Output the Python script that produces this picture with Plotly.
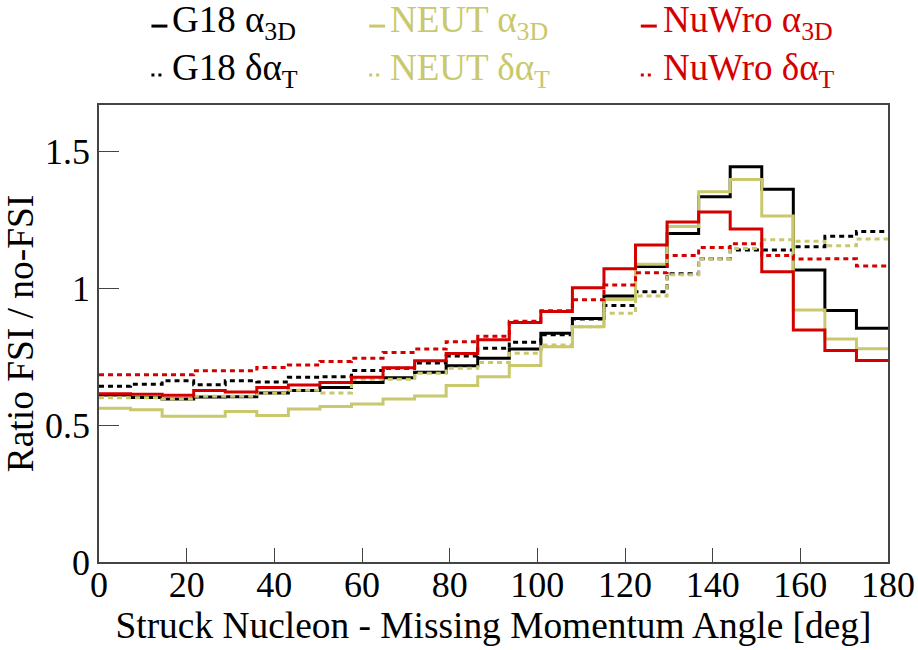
import numpy as np
import plotly.graph_objects as go

# ---- data ----
bin_edges = np.linspace(0, 180, 26)  # 25 bins of 7.2 deg

g18_a3d = [0.610, 0.601, 0.596, 0.603, 0.604, 0.618, 0.627, 0.638, 0.656, 0.673,
           0.693, 0.717, 0.745, 0.778, 0.836, 0.890, 0.972, 1.080, 1.200, 1.335,
           1.444, 1.362, 1.067, 0.919, 0.854]
g18_dat = [0.642, 0.650, 0.662, 0.648, 0.662, 0.658, 0.675, 0.677, 0.700, 0.708,
           0.727, 0.753, 0.781, 0.803, 0.830, 0.888, 0.937, 0.988, 1.053, 1.108,
           1.140, 1.140, 1.152, 1.190, 1.208]
neut_a3d = [0.562, 0.556, 0.533, 0.533, 0.550, 0.535, 0.559, 0.568, 0.577, 0.596,
            0.607, 0.645, 0.677, 0.718, 0.787, 0.860, 0.959, 1.088, 1.226, 1.353,
            1.398, 1.264, 0.921, 0.815, 0.779]
neut_dat = [0.600, 0.600, 0.596, 0.606, 0.606, 0.617, 0.628, 0.618, 0.668, 0.668,
            0.690, 0.708, 0.729, 0.763, 0.793, 0.860, 0.909, 0.972, 1.050, 1.108,
            1.146, 1.178, 1.172, 1.156, 1.180]
nuwro_a3d = [0.615, 0.613, 0.609, 0.627, 0.621, 0.638, 0.647, 0.656, 0.675, 0.710,
             0.735, 0.762, 0.812, 0.875, 0.915, 1.002, 1.072, 1.158, 1.242, 1.279,
             1.217, 1.061, 0.848, 0.773, 0.736]
nuwro_dat = [0.684, 0.684, 0.684, 0.699, 0.699, 0.711, 0.720, 0.733, 0.745, 0.766,
             0.778, 0.805, 0.825, 0.880, 0.918, 0.958, 1.012, 1.057, 1.120, 1.149,
             1.163, 1.120, 1.107, 1.108, 1.082]

x_ticks = [0, 20, 40, 60, 80, 100, 120, 140, 160, 180]
y_ticks = [0, 0.5, 1, 1.5]
y_tick_labels = ["0", "0.5", "1", "1.5"]

BLACK = "#000000"
OLIVE = "#c9c86c"
RED = "#d40000"
DOT = "5px,4px"
FONT = "Liberation Serif"

series = [
    ("G18 α<sub>3D</sub>", g18_a3d, BLACK, "solid"),
    ("G18 δα<sub>T</sub>", g18_dat, BLACK, DOT),
    ("NEUT α<sub>3D</sub>", neut_a3d, OLIVE, "solid"),
    ("NEUT δα<sub>T</sub>", neut_dat, OLIVE, DOT),
    ("NuWro α<sub>3D</sub>", nuwro_a3d, RED, "solid"),
    ("NuWro δα<sub>T</sub>", nuwro_dat, RED, DOT),
]

fig = go.Figure()
for name, vals, col, dash in series:
    fig.add_trace(go.Scatter(
        x=list(bin_edges), y=list(vals) + [vals[-1]],
        mode="lines", line=dict(color=col, width=3, dash=dash, shape="hv"),
        name=name, showlegend=False))

# ---- layout geometry (pixels) ----
W, H = 918, 650
L, R, T, B = 98.5, 29.5, 105, 87.6
pw, ph = W - L - R, H - T - B

def px2paper(x, y):
    return (x - L) / pw, (H - B - y) / ph

# legend built from annotations + short line samples
sample_x = [151, 369, 641]
text_x = [170, 388, 661]
sample_y = [26, 75]
text_y = [22, 70]
shapes = []
annotations = []
for i, (name, vals, col, dash) in enumerate(series):
    c = i // 2
    r = i % 2
    x0, y0 = px2paper(sample_x[c], sample_y[r])
    x1, _ = px2paper(sample_x[c] + (16 if dash == "solid" else 13), sample_y[r])
    shapes.append(dict(type="line", xref="paper", yref="paper",
                       x0=x0, x1=x1, y0=y0, y1=y0,
                       line=dict(color=col, width=3,
                                 dash="solid" if dash == "solid" else "3px,4px")))
    tx, ty = px2paper(text_x[c], text_y[r])
    annotations.append(dict(text=name, xref="paper", yref="paper", x=tx, y=ty,
                            xanchor="left", yanchor="middle", showarrow=False,
                            font=dict(family=FONT, size=37, color=col)))

fig.update_layout(
    width=W, height=H,
    margin=dict(l=L, r=R, t=T, b=B, pad=0),
    paper_bgcolor="white", plot_bgcolor="white",
    font=dict(family=FONT, size=36, color="black"),
    shapes=shapes, annotations=annotations,
    xaxis=dict(range=[0, 180], tickvals=x_ticks, ticks="inside", ticklen=14,
               tickwidth=1, tickcolor="#444", showline=True, linecolor="#444",
               linewidth=1.5, mirror=True, showgrid=False, zeroline=False,
               automargin=False, ticklabelstandoff=-10,
               tickfont=dict(size=36),
               title=dict(text="Struck Nucleon - Missing Momentum Angle [deg]",
                          font=dict(size=37.4), standoff=2)),
    yaxis=dict(range=[0, 1.67], tickvals=y_ticks, ticktext=y_tick_labels,
               ticks="inside", ticklen=20, tickwidth=1, tickcolor="#444",
               showline=True, linecolor="#444", linewidth=1.5, mirror=True,
               showgrid=False, zeroline=False, automargin=False,
               tickfont=dict(size=36),
               title=dict(text="Ratio FSI / no-FSI", font=dict(size=37.4), standoff=0)),
)

fig.write_html("out.html")
